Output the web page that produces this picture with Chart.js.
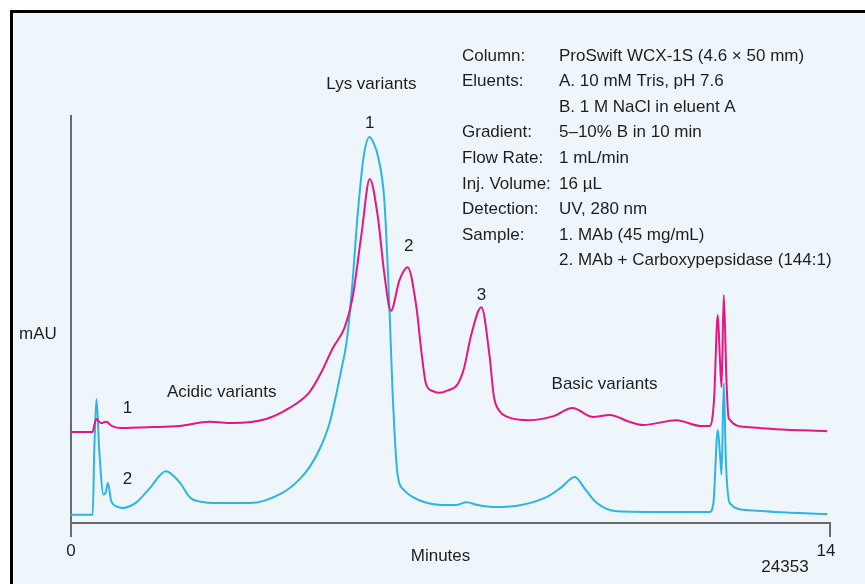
<!DOCTYPE html>
<html>
<head>
<meta charset="utf-8">
<script src="https://cdn.jsdelivr.net/npm/chart.js@4/dist/chart.umd.min.js"></script>
<style>
    html, body { margin: 0; padding: 0; background: #fff; }
    #wrap { width: 865px; height: 584px; }
</style>
</head>
<body>
<div id="wrap"><canvas id="chart" width="865" height="584"></canvas></div>
<script>
const xTicks = [0, 14];

// trace 1: MAb
const trace1Times = [0, 0.40, 0.43, 0.47, 0.55, 0.65, 0.75, 0.9, 1.5, 2.0, 2.56, 2.98, 3.6, 4.03, 4.4, 4.6, 4.83, 5.05, 5.19, 5.36, 5.51, 5.66, 5.78, 5.9, 6.06, 6.21, 6.37, 6.46, 6.55, 6.68, 6.8, 6.95, 7.13, 7.25, 7.38, 7.57, 7.72, 7.8, 7.9, 8.05, 8.46, 8.9, 9.25, 9.62, 9.94, 10.3, 10.55, 11.17, 11.6, 11.78, 11.86, 11.93, 11.97, 12.0, 12.04, 12.09, 12.13, 12.46, 13.0, 13.95];
const trace1Values = [22.3, 22.3, 24, 25.5, 24.5, 24.8, 23.8, 23.3, 23.5, 23.8, 24.8, 24.5, 25.5, 28.2, 32.1, 36.5, 42.9, 48, 55, 71, 84.3, 75, 61, 52, 59.6, 62.7, 53, 42.4, 34, 32.3, 31.9, 32.5, 34, 38, 46, 52.9, 41, 31, 27.5, 26, 25.2, 26.2, 28.2, 26, 26.5, 24.8, 24, 25.2, 23.8, 23.8, 30, 51, 40, 33.3, 55.9, 35, 25.7, 23.5, 23, 22.5];

// trace 2: MAb + Carboxypepsidase
const trace2Times = [0, 0.40, 0.43, 0.47, 0.52, 0.6, 0.64, 0.68, 0.74, 0.85, 0.95, 1.2, 1.45, 1.75, 2.0, 2.2, 2.4, 2.7, 3.3, 3.9, 4.2, 4.4, 4.6, 4.77, 4.9, 5.0, 5.08, 5.18, 5.29, 5.4, 5.51, 5.6, 5.66, 5.78, 5.88, 5.93, 6.02, 6.15, 6.3, 6.5, 6.86, 7.1, 7.3, 7.5, 7.85, 8.3, 8.78, 9.05, 9.29, 9.5, 9.7, 10.07, 11.0, 11.78, 11.85, 11.93, 11.97, 12.0, 12.04, 12.08, 12.15, 12.46, 13.0, 13.95];
const trace2Values = [2.0, 2.0, 18, 30.4, 18, 6.9, 7.5, 9.8, 5.5, 4.0, 3.7, 5.0, 8.5, 12.7, 10, 6.2, 5.2, 4.9, 4.9, 7.4, 10.5, 13.7, 18.5, 24.5, 32, 38.5, 44, 57, 76, 90, 94.6, 92.5, 90, 79, 50.5, 32.6, 12.3, 8.0, 6.4, 5.2, 4.4, 4.4, 5.1, 4.4, 3.9, 4.4, 6.4, 8.8, 11.3, 8.0, 4.9, 2.9, 2.7, 2.7, 5, 22.8, 17, 11.8, 34.3, 15, 4.9, 3.2, 2.7, 2.2];

const infoLabels = ["Column:", "Eluents:", "", "Gradient:", "Flow Rate:", "Inj. Volume:", "Detection:", "Sample:", ""];
const infoValues = ["ProSwift WCX-1S (4.6 × 50 mm)", "A. 10 mM Tris, pH 7.6", "B. 1 M NaCl in eluent A", "5–10% B in 10 min", "1 mL/min", "16 µL", "UV, 280 nm", "1. MAb (45 mg/mL)", "2. MAb + Carboxypepsidase (144:1)"];

const annotations = [
    {text: "Lys variants", x: 5.54, y: 107.4},
    {text: "1", x: 5.51, y: 98.0},
    {text: "2", x: 6.23, y: 67.9},
    {text: "3", x: 7.57, y: 55.9},
    {text: "Acidic variants", x: 2.78, y: 32.1},
    {text: "Basic variants", x: 9.84, y: 34.1},
    {text: "1", x: 1.04, y: 28.2},
    {text: "2", x: 1.04, y: 10.8}
];

const FONT = '17px "Liberation Sans", Arial, sans-serif';
const TEXT = '#1e1e1e';

let toPoints = function (times, values) {
    return times.map((t, i) => ({x: t, y: values[i]}));
};

const decor = {
    id: 'decor',
    beforeDraw(chart) {
        const ctx = chart.ctx;
        ctx.save();
        ctx.fillStyle = '#fff';
        ctx.fillRect(0, 0, chart.width, chart.height);
        ctx.fillStyle = '#eef6fc';
        ctx.fillRect(11, 11, chart.width, chart.height);
        ctx.strokeStyle = '#000';
        ctx.lineWidth = 3;
        ctx.beginPath();
        ctx.moveTo(11.5, chart.height);
        ctx.lineTo(11.5, 11.5);
        ctx.lineTo(chart.width, 11.5);
        ctx.stroke();

        const xs = chart.scales.x, ys = chart.scales.y;
        const x0 = xs.getPixelForValue(xTicks[0]);
        const x1 = xs.getPixelForValue(xTicks[1]);
        const yb = ys.getPixelForValue(0);
        const yt = ys.getPixelForValue(ys.max);
        ctx.strokeStyle = '#6a6a6a';
        ctx.lineWidth = 2;
        ctx.beginPath();
        ctx.moveTo(x0, yt);
        ctx.lineTo(x0, yb + 14);
        ctx.moveTo(x0, yb);
        ctx.lineTo(x1, yb);
        ctx.lineTo(x1, yb + 14);
        ctx.stroke();

        ctx.fillStyle = TEXT;
        ctx.font = FONT;
        ctx.textAlign = 'center';
        ctx.textBaseline = 'middle';
        ctx.fillText(String(xTicks[0]), x0, yb + 28);
        ctx.fillText(String(xTicks[1]), x1 - 4, yb + 28);
        ctx.fillText("Minutes", (x0 + x1) / 2 - 10, yb + 33);
        ctx.fillText("24353", x1 - 45, yb + 44);
        ctx.fillText("mAU", x0 - 33, ys.getPixelForValue(46.3));
        ctx.restore();
    },
    afterDatasetsDraw(chart) {
        const ctx = chart.ctx;
        const xs = chart.scales.x, ys = chart.scales.y;
        ctx.save();
        ctx.fillStyle = TEXT;
        ctx.font = FONT;
        ctx.textAlign = 'center';
        ctx.textBaseline = 'middle';
        for (const a of annotations) {
            ctx.fillText(a.text, xs.getPixelForValue(a.x), ys.getPixelForValue(a.y));
        }
        ctx.textAlign = 'left';
        infoLabels.forEach((label, i) => {
            const y = 56 + i * 25.6;
            if (label) {
                ctx.fillText(label, 462, y);
            }
            ctx.fillText(infoValues[i], 559, y);
        });
        ctx.restore();
    }
};

new Chart(document.getElementById('chart'), {
    type: 'line',
    data: {
        datasets: [{
            label: '1',
            data: toPoints(trace1Times, trace1Values),
            borderColor: '#e3177f',
            borderWidth: 2,
            pointRadius: 0,
            cubicInterpolationMode: 'monotone',
            fill: false,
            clip: false
        }, {
            label: '2',
            data: toPoints(trace2Times, trace2Values),
            borderColor: '#2db4e6',
            borderWidth: 2,
            pointRadius: 0,
            cubicInterpolationMode: 'monotone',
            fill: false,
            clip: false
        }]
    },
    options: {
        responsive: false,
        animation: false,
        layout: {padding: {left: 71, right: 35, top: 115, bottom: 61}},
        plugins: {legend: {display: false}, tooltip: {enabled: false}},
        scales: {
            x: {type: 'linear', min: 0, max: 14, display: false},
            y: {min: 0, max: 100, display: false}
        }
    },
    plugins: [decor]
});
</script>
</body>
</html>
